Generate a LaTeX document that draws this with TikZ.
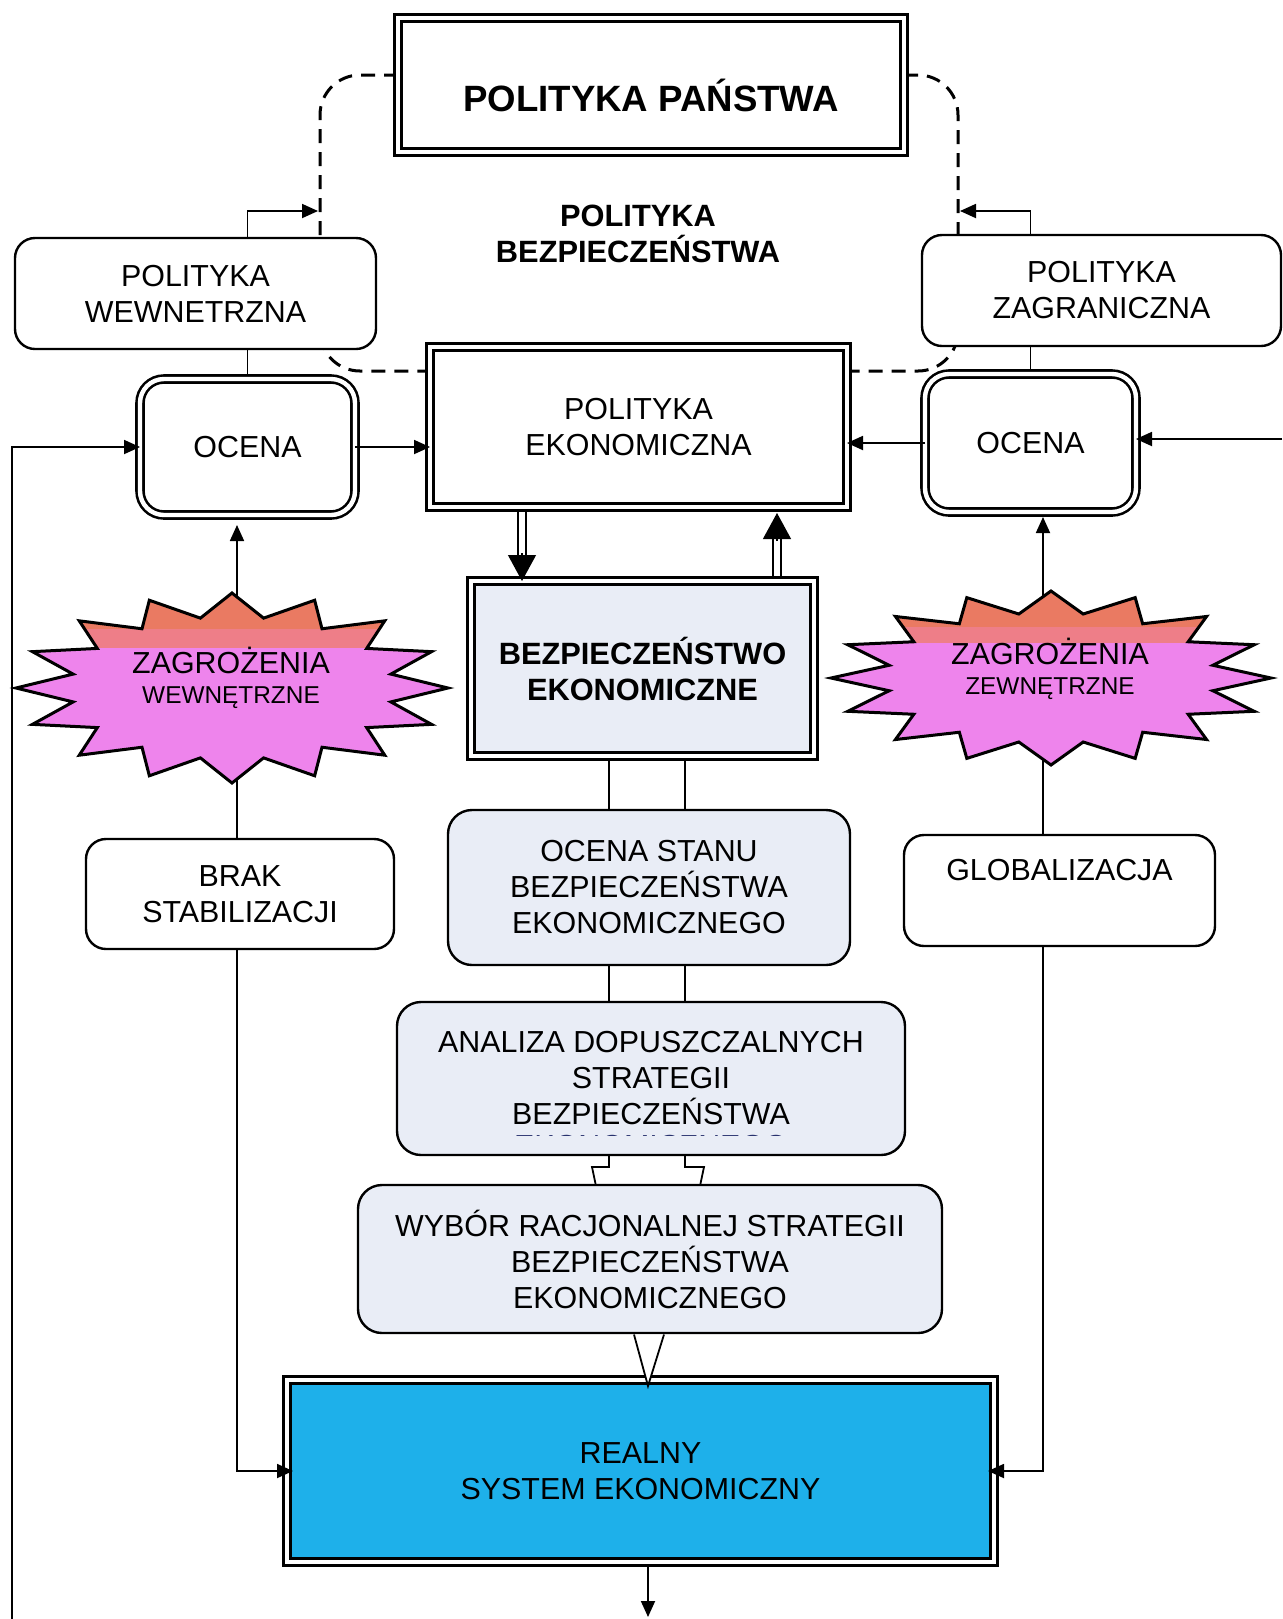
\documentclass[tikz,border=0pt]{standalone}
\usepackage{fontspec}
\setmainfont{Liberation Sans}
\usetikzlibrary{arrows.meta,calc}

\pgfdeclarelayer{back}
\pgfsetlayers{back,main}

\definecolor{paleblue}{RGB}{233,237,246}
\definecolor{realblue}{RGB}{30,176,234}
\definecolor{starpink}{RGB}{238,132,236}
\definecolor{starorange}{RGB}{234,122,98}
\definecolor{starband}{RGB}{238,126,136}
\definecolor{faintink}{RGB}{40,50,110}

\newcommand\txtreg{\fontsize{15.2pt}{18pt}\selectfont}
\newcommand\txtbold{\fontsize{15.4pt}{18pt}\selectfont\bfseries}
\newcommand\txttitle{\fontsize{18.3pt}{22pt}\selectfont\bfseries}
\newcommand\txtsmall{\fontsize{12.2pt}{15pt}\selectfont}

% 16-point burst on an ellipse: centre x, centre y, half width, half height
\newcommand\burst[4]{plot[variable=\k, samples at={0,...,31}]
  ({#1+(1-0.25*mod(\k,2))*#3*sin(\k*11.25)},
   {#2-(1-0.25*mod(\k,2))*#4*cos(\k*11.25)}) -- cycle}

\tikzset{
  every node/.style={inner sep=0pt, outer sep=0pt},
  plainbox/.style={draw, line width=1.2pt, rounded corners=10pt, fill=white,
    align=center, font=\txtreg},
  dblbox/.style={draw, line width=1.3pt, double=white, double distance=2.2pt,
    fill=white, align=center, font=\txtreg},
  link/.style={line width=0.9pt},
  arr/.style={link, -{Triangle[length=8pt,width=7pt]}},
  dashline/.style={line width=1.5pt, dash pattern=on 7pt off 4.5pt,
    rounded corners=20pt},
  twin/.style={line width=1.2pt, double=white, double distance=3pt},
  bighead/.style={line width=0.6pt, -{Triangle[length=13pt,width=14pt]}},
  burstline/.style={line width=1.5pt, line join=miter},
}

\begin{document}
\begin{tikzpicture}[x=0.5pt, y=-0.5pt]
\useasboundingbox (0,0) rectangle (1282,1619);

% ---------- boxes ----------
\node[dblbox, minimum width=253pt, minimum height=67pt, font=\txttitle,
      text height=26pt, text depth=0pt] (pan) at (651,85) {POLITYKA PAŃSTWA};
\node[font=\txtbold, align=center] (pb) at (638,233.5) {POLITYKA\\BEZPIECZEŃSTWA};
\node[plainbox, minimum width=180.5pt, minimum height=55.5pt] (wew) at (195.5,293.5) {POLITYKA\\WEWNETRZNA};
\node[plainbox, minimum width=179.5pt, minimum height=55.5pt] (zag) at (1101.5,290.5) {POLITYKA\\ZAGRANICZNA};
\node[dblbox, rounded corners=12pt, minimum width=107.5pt, minimum height=68pt] (ocl) at (247.5,447) {OCENA};
\node[dblbox, minimum width=208.5pt, minimum height=80pt] (ekon) at (638.5,427) {POLITYKA\\EKONOMICZNA};
\node[dblbox, rounded corners=12pt, minimum width=105.5pt, minimum height=69pt] (ocr) at (1030.5,443) {OCENA};
\node[dblbox, fill=paleblue, font=\txtbold, minimum width=171.5pt, minimum height=87.5pt] (bezp) at (642.5,668.5) {BEZPIECZEŃSTWO\\EKONOMICZNE};
\node[plainbox, rounded corners=12pt, fill=paleblue, minimum width=201pt, minimum height=77.5pt] (ost) at (649,887.5) {OCENA STANU\\BEZPIECZEŃSTWA\\EKONOMICZNEGO};
\node[plainbox, rounded corners=12pt, fill=paleblue, minimum width=254pt, minimum height=76.5pt] (ana) at (651,1078.5) {ANALIZA DOPUSZCZALNYCH\\STRATEGII\\BEZPIECZEŃSTWA};
\node[plainbox, rounded corners=12pt, fill=paleblue, minimum width=292pt, minimum height=74pt] (wyb) at (650,1259) {WYBÓR RACJONALNEJ STRATEGII\\BEZPIECZEŃSTWA\\EKONOMICZNEGO};
\node[dblbox, fill=realblue, minimum width=353.5pt, minimum height=91pt] (real) at (640.5,1471) {REALNY\\SYSTEM EKONOMICZNY};
\node[plainbox, minimum width=154pt, minimum height=55pt] (brak) at (240,894) {BRAK\\STABILIZACJI};
\node[plainbox, minimum width=155.5pt, minimum height=55.5pt, text height=11pt, text depth=21.5pt] (glob) at (1059.5,890.5) {GLOBALIZACJA};

% last line of the analysis box, cut off by the box edge
\begin{scope}
  \clip (500,1132.5) rectangle (800,1135);
  \node[font=\txtreg, text=faintink, anchor=base] (anacut) at (651,1156) {EKONOMICZNEGO};
\end{scope}

% ---------- threat bursts ----------
\coordinate (sw) at (232,688);
\coordinate (se) at (1051,678);
\begin{scope}
  \clip \burst{232}{688}{216}{95};
  \fill[starpink] (0,580) rectangle (470,800);
  \fill[starband] (0,580) rectangle (470,648);
  \fill[starorange] (0,580) rectangle (470,629);
\end{scope}
\draw[burstline] \burst{232}{688}{216}{95};
\begin{scope}
  \clip \burst{1051}{678}{220}{87};
  \fill[starpink] (820,580) rectangle (1282,780);
  \fill[starband] (820,580) rectangle (1282,643);
  \fill[starorange] (820,580) rectangle (1282,627);
\end{scope}
\draw[burstline] \burst{1051}{678}{220}{87};
\node[font=\txtreg, anchor=base] (swt1) at (231,673) {ZAGROŻENIA};
\node[font=\txtsmall, anchor=base] (swt2) at (231,703) {WEWNĘTRZNE};
\node[font=\txtreg, anchor=base] (set1) at (1050,664) {ZAGROŻENIA};
\node[font=\txtsmall, anchor=base] (set2) at (1050,694) {ZEWNĘTRZNE};

% ---------- helper coordinates ----------
\coordinate (dtop) at (0,75);
\coordinate (dbot) at (0,371);
\coordinate (dleft) at (320,0);
\coordinate (dright) at (958,0);
\coordinate (wewin) at (318,211);
\coordinate (zagin) at (960,211);
\coordinate (lline) at (237,0);
\coordinate (rline) at (1043,0);
\coordinate (lb) at (12,1619);
\coordinate (rb) at (1282,439);
\coordinate (dl) at (522,0);
\coordinate (ur) at (777,0);
\coordinate (cl) at (609,0);
\coordinate (cr) at (685,0);
\coordinate (wtip) at (648,1386);
\coordinate (outb) at (648,1617);

% ---------- connectors behind the boxes ----------
\begin{pgfonlayer}{back}
  \draw[dashline] (pan.west |- dtop) -| (dleft |- dbot) -- (ekon.west |- dbot);
  \draw[dashline] (pan.east |- dtop) -| (dright |- dbot) -- (ekon.east |- dbot);
  \draw[link] (ocl.north |- wew.south) -- (ocl.north);
  \draw[link] (ocr.north |- zag.south) -- (ocr.north);
  \draw[arr, shorten >=5pt] (lline |- sw) -- (lline |- ocl.south);
  \draw[arr, shorten >=2.5pt] (rline |- se) -- (rline |- ocr.south);
  \draw[link] (lline |- sw) -- (lline |- brak.south);
  \draw[link] (rline |- se) -- (rline |- glob.south);
  \draw[twin] (dl |- ekon.center) -- ($(dl |- bezp.north)+(0,-24)$);
  \draw[twin] (ur |- bezp.center) -- ($(ur |- ekon.south)+(0,28)$);
  \draw[link] (cl |- bezp.south) -- (cl |- ost.north);
  \draw[link] (cr |- bezp.south) -- (cr |- ost.north);
  \draw[link] (cl |- ost.south) -- (cl |- ana.north);
  \draw[link] (cr |- ost.south) -- (cr |- ana.north);
  \draw[link] (cl |- ana.south) -- ++(0,12) -- ++(-17,0) -- ++(4,19);
  \draw[link] (cr |- ana.south) -- ++(0,12) -- ++(19,0) -- ++(-4,19);
  \draw[arr] (outb |- real.south) -- (outb);
\end{pgfonlayer}

% ---------- arrows drawn over the boxes ----------
\draw[bighead] ($(dl |- bezp.north)+(0,-28)$) -- (dl |- bezp.north);
\draw[bighead] ($(ur |- ekon.south)+(0,34)$) -- ($(ur |- ekon.south)+(0,6)$);
\draw[arr] (ocl.north |- wew.north) |- (wewin);
\draw[arr] (ocr.north |- zag.north) |- (zagin);
\draw[arr] (lb) |- (ocl.west);
\draw[arr] (rb) -- (rb -| ocr.east);
\draw[arr] (ocl.east) -- (ocl.east -| ekon.west);
\draw[arr] (ocr.west) -- (ocr.west -| ekon.east);
\draw[arr, shorten >=-3pt] (lline |- brak.south) |- (real.west);
\draw[arr, shorten >=-3pt] (rline |- glob.south) |- (real.east);
\draw[link, fill=white] ($(wyb.south)+(-16,1.5)$) -- (wtip) -- ($(wyb.south)+(14,1.5)$);

\end{tikzpicture}
\end{document}
